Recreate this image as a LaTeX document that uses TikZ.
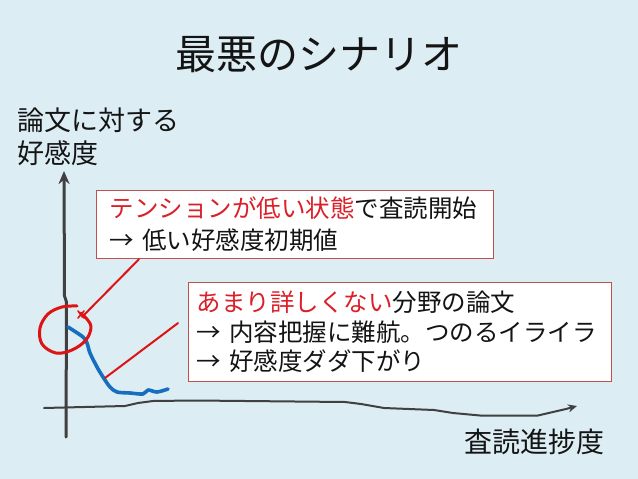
\documentclass[tikz,border=0pt]{standalone}
\usepackage{fontspec}
\setmainfont{Noto Sans CJK JP}
\usetikzlibrary{arrows.meta}
\definecolor{bg}{RGB}{220,237,244}
\definecolor{axisgray}{RGB}{64,64,64}
\definecolor{boxred}{RGB}{192,80,77}
\definecolor{hired}{RGB}{218,32,40}
\definecolor{penred}{RGB}{222,20,20}
\definecolor{penblue}{RGB}{22,110,190}
\definecolor{txt}{RGB}{20,20,20}
\begin{document}
\begin{tikzpicture}[x=1pt,y=-1pt,
  axisline/.style={draw=axisgray,line cap=round,line join=round},
  notebox/.style={draw=boxred,line width=1.2pt,fill=white,anchor=north west,
    align=left,text=txt,font=\fontsize{24.5}{32}\selectfont,inner ysep=0pt},
  penline/.style={draw=penred,line width=2pt,line cap=round},
  lbl/.style={text=txt,inner sep=0pt}]
\fill[bg] (0,0) rectangle (638,479);
\useasboundingbox (0,0) rectangle (638,479);
% title
\node[lbl,font=\fontsize{41}{41}\selectfont] (title) at (319,55) {最悪のシナリオ};
% axis labels
\node[lbl,anchor=west,align=left,font=\fontsize{27}{33}\selectfont] (ylab) at (17,136.5) {論文に対する\\好感度};
\node[lbl,font=\fontsize{28}{28}\selectfont] (xlab) at (534,442) {査読進捗度};
% axes
\coordinate (yb) at (66,437);
\coordinate (yt) at (64,171);
\draw[axisline,line width=3pt,-{Stealth[length=13pt,width=11pt]}] (yb) -- (66.5,302) -- (64.5,296) -- (yt);
\coordinate (xl) at (44,408);
\coordinate (xr) at (577,406);
\draw[axisline,line width=2pt,-{Stealth[length=9pt,width=8pt]}] (xl) -- (125,406) -- (138,403) -- (153,401) -- (195,400.5) -- (345,402) -- (361,404) -- (384,408) -- (434,410) -- (453,413) -- (480,415.5) -- (538,415.5) -- (553,412) -- (566,409) -- (xr);
% blue curve
\draw[draw=penblue,line width=3.6pt,line cap=round,line join=round] plot[smooth,tension=0.5] coordinates {(68,327) (83,337) (87,343) (90,353) (97,367) (103,377) (110,387) (117,392) (130,393) (143,394) (148,390) (157,392) (168,389)};
% red circle
\draw[penline,line width=3pt,line join=round] plot[smooth,tension=0.6] coordinates {(77,306) (62,307) (48,314) (40,328) (42,344) (56,353) (72,350) (86,340) (91,327) (86,318) (80,313)};
\draw[penline,line width=1.6pt] (78,311) -- (84,318) (84,311) -- (78,318);
% boxes
\node[notebox,minimum height=68pt,text width=371pt,inner xsep=13pt] (box1) at (96,190)
  {\textcolor{hired}{テンションが低い状態}で査読開始\\→ 低い好感度初期値};
\node[notebox,minimum height=99pt,text width=407pt,inner xsep=8pt,font=\fontsize{24.5}{29.5}\selectfont] (box2) at (188,282)
  {\textcolor{hired}{あまり詳しくない}分野の論文\\→ 内容把握に難航。つのるイライラ\\→ 好感度ダダ下がり};
% callout lines
\coordinate (c1) at (82,317);
\coordinate (c2) at (105,378);
\draw[penline] (box1.south west) ++(43,0) -- (c1);
\draw[penline] (box2.west) ++(-10,-9) -- (c2);
\end{tikzpicture}
\end{document}
